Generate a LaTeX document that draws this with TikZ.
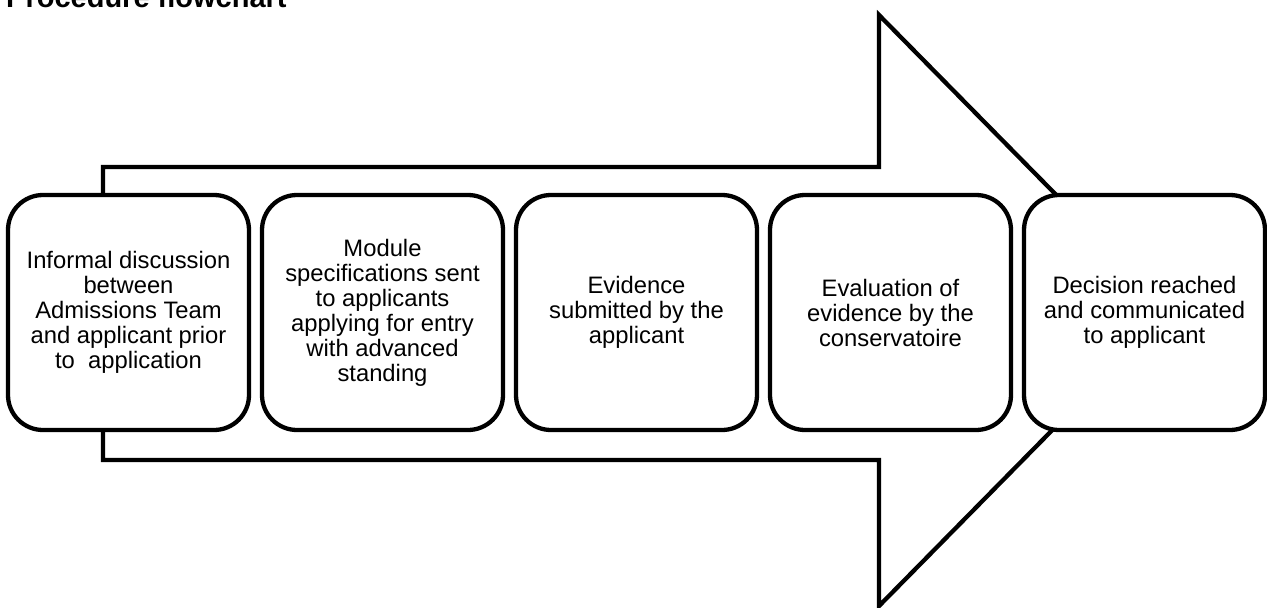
\documentclass[tikz,border=0pt]{standalone}
\usepackage{fontspec}
\setmainfont{Liberation Sans}
\begin{document}
\begin{tikzpicture}[x=1pt,y=-1pt,line join=miter,
  stepbox/.style={draw, line width=4.3pt, fill=white, rounded corners=35pt,
    minimum width=241pt, minimum height=235pt, inner sep=0pt, align=center,
    font=\fontsize{23.8}{25}\selectfont},
  bigarrow/.style={draw, line width=4.3pt, fill=white},
  titlestyle/.style={anchor=base west, inner sep=0pt, font=\bfseries\fontsize{29}{33}\selectfont}]
\clip (0,0) rectangle (1267,608);
\useasboundingbox (0,0) rectangle (1267,608);
\node[titlestyle] (title) at (6,7) {Procedure flowchart};
\draw[bigarrow] (103,167) -- (879,167) -- (879,15) -- (1170,310.5) -- (879,606) -- (879,460) -- (103,460) -- cycle;
\node[stepbox] (s1) at (128.5,312.5) {Informal discussion\\between\\Admissions Team\\and applicant prior\\to\ \ application};
\node[stepbox] (s2) at (382.5,312.5) {Module\\specifications sent\\to applicants\\applying for entry\\with advanced\\standing};
\node[stepbox] (s3) at (636.5,312.5) {Evidence\\submitted by the\\applicant};
\node[stepbox] (s4) at (890.5,312.5) {Evaluation of\\evidence by the\\conservatoire};
\node[stepbox] (s5) at (1144.5,312.5) {Decision reached\\and communicated\\to applicant};
\end{tikzpicture}
\end{document}
